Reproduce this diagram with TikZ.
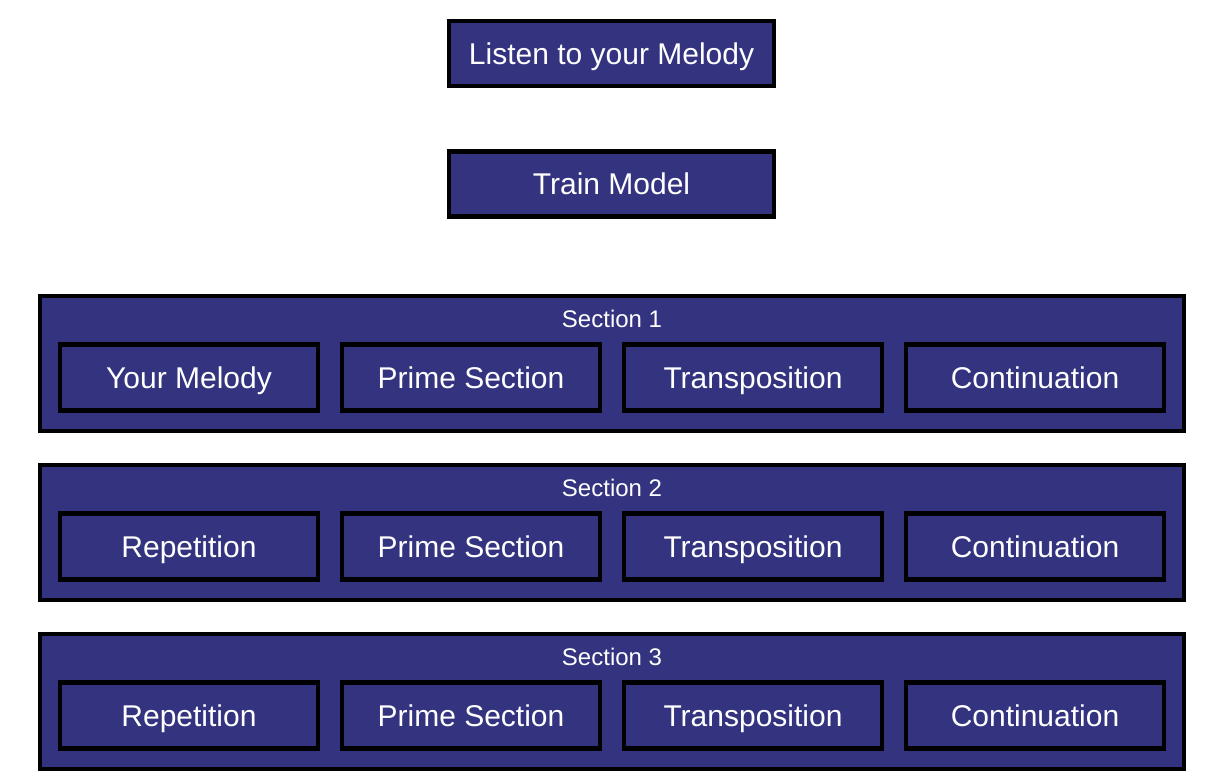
\documentclass[tikz,border=0pt]{standalone}
\usepackage{fontspec}
\setmainfont{Liberation Sans}
\usepackage{xcolor}
\usepackage{tikz}
\usetikzlibrary{shapes.geometric}
\definecolor{blockblue}{HTML}{333380}
\tikzstyle{block} = [rectangle, minimum width=162.5pt, minimum height=32.5pt, draw=black, fill=blockblue, line width=2.2pt, text=white, text height=10.75pt, text depth=0pt, font=\fontsize{15}{18}\selectfont]
\tikzstyle{group} = [rectangle, minimum width=572pt, minimum height=67.5pt, draw=black, fill=blockblue, line width=2.2pt]
\tikzstyle{part} = [rectangle, minimum width=129pt, minimum height=33pt, draw=black, fill=blockblue, line width=2.2pt, text=white, text height=10.75pt, text depth=0pt, font=\fontsize{15}{18}\selectfont]
\tikzstyle{grouplabel} = [text=white, text height=8.6pt, text depth=0pt, font=\fontsize{12}{14}\selectfont]

\begin{document}
\begin{tikzpicture}[node distance=141pt]
			\useasboundingbox (0,0) rectangle (612pt,-391.5pt);
			\node (listen) [block] at (305.75pt,-26.75pt) {Listen to your Melody};
			\node (train) [block] at (305.75pt,-92pt) {Train Model};
			% section 1
			\node (sec1) [group] at (306pt,-181.75pt) {};
			\node (lab1) [grouplabel] at (306pt,-159.5pt) {Section 1};
			\node (a1) [part] at (94.5pt,-188.75pt) {Your Melody};
			\node (b1) [part, right of=a1] {Prime Section};
			\node (c1) [part, right of=b1] {Transposition};
			\node (d1) [part, right of=c1] {Continuation};
			% section 2
			\node (sec2) [group] at (306pt,-266.25pt) {};
			\node (lab2) [grouplabel] at (306pt,-244pt) {Section 2};
			\node (a2) [part] at (94.5pt,-273.25pt) {Repetition};
			\node (b2) [part, right of=a2] {Prime Section};
			\node (c2) [part, right of=b2] {Transposition};
			\node (d2) [part, right of=c2] {Continuation};
			% section 3
			\node (sec3) [group] at (306pt,-350.75pt) {};
			\node (lab3) [grouplabel] at (306pt,-328.5pt) {Section 3};
			\node (a3) [part] at (94.5pt,-357.75pt) {Repetition};
			\node (b3) [part, right of=a3] {Prime Section};
			\node (c3) [part, right of=b3] {Transposition};
			\node (d3) [part, right of=c3] {Continuation};
		\end{tikzpicture}
\end{document}
